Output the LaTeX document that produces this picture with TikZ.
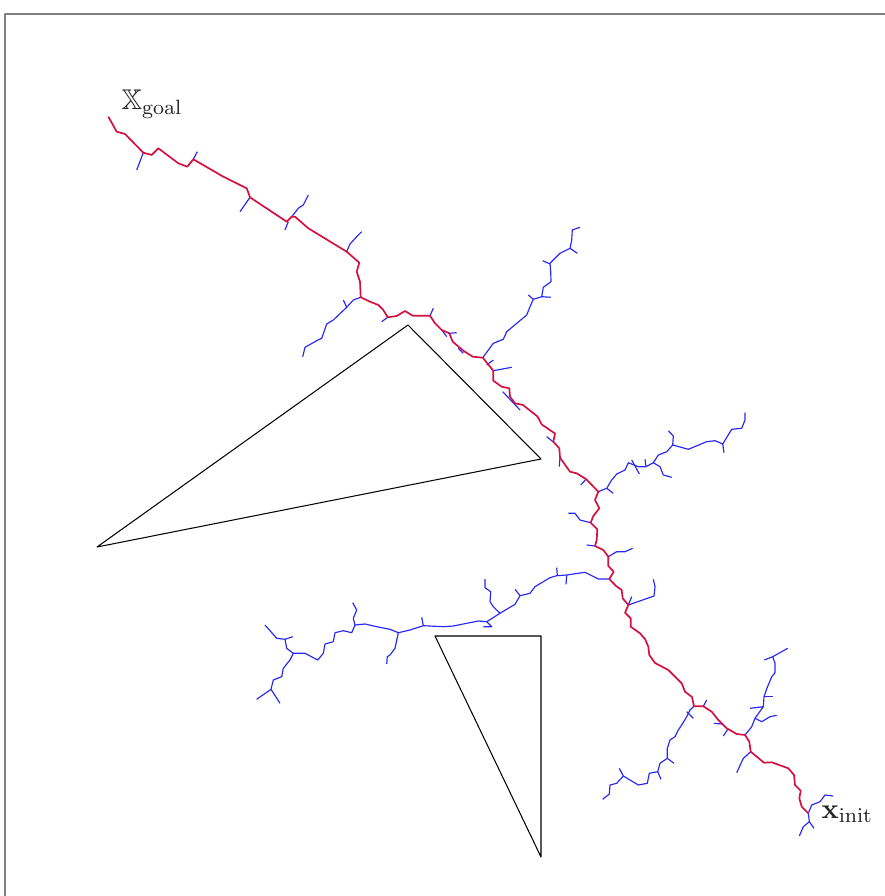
\documentclass[tikz,border=0pt]{standalone}
\usepackage{amsmath, amssymb}
\usepackage{xcolor}
\usepackage{tikz}
\usetikzlibrary{positioning}

\definecolor{pathred}{RGB}{214,16,62}
\definecolor{treeblue}{RGB}{40,40,245}

\begin{document}
\begin{tikzpicture}[x=0.013559cm, y=-0.013559cm, line join=round]
        \tikzstyle{tree} = [draw, treeblue, line width=0.45pt]
        \tikzstyle{solution} = [draw, pathred, line width=0.65pt]
        \tikzstyle{obstacle} = [draw, black, line width=0.4pt]
        \tikzstyle{label} = [anchor=base west, inner sep=0pt, text=black!85, font=\fontsize{11}{13}\selectfont]

        \clip (0,0) rectangle (885,896);
        \draw[gray, line width=0.5pt] (5,14) rectangle (900,910);

        \coordinate (goal) at (108.3,116.7);
        \coordinate (init) at (808.3,813.3);
        \node [label] (goallabel) at (121,110) {$\mathbb{X}_{\mathrm{goal}}$};
        \node [label] (initlabel) at (821,818) {$\mathbf{x}_{\mathrm{init}}$};

        % obstacles
        \path [obstacle] (408,325) -- (541,459) -- (97,547) -- cycle;
        \path [obstacle] (435,636) -- (541,636) -- (541,857) -- cycle;

        % tree branches
        \path [tree] (143.3,152.7) -- (136.7,170);
        \path [tree] (193.3,159.3) -- (197.3,151.7);
        \path [tree] (250,197.3) -- (240,211.7);
        \path [tree] (291.7,216.7) -- (298.3,208.3) -- (303.3,205) -- (308.3,195);
        \path [tree] (288.3,221.7) -- (285,230);
        \path [tree] (346.7,251.7) -- (350,244) -- (356.7,236.7) -- (361.7,231.7);
        \path [tree] (360.7,297.3) -- (353.3,300) -- (346.7,307.3) -- (333.3,320) -- (326.7,324) -- (321.7,338.3) -- (316.7,340.7) -- (305,347.3) -- (302.7,356.7);
        \path [tree] (343.3,300) -- (346.7,307.3);
        \path [tree] (387.7,317.3) -- (381.7,321.7);
        \path [tree] (430,315.7) -- (433.3,308.3);
        \path [tree] (441.7,330) -- (446.7,336.7);
        \path [tree] (449.3,333.3) -- (456.7,332.7);
        \path [tree] (458.3,348.3) -- (463.3,353.3);
        \path [tree] (482.7,357.7) -- (493.3,343.3) -- (503.3,339.3) -- (506.7,331.7) -- (526.7,315) -- (530,306.7) -- (533.3,299.3) -- (541.7,296.7) -- (543.3,287.3) -- (551,281.7) -- (550.7,271.7) -- (550,263.3) -- (560,253.3) -- (570,248.3) -- (571.7,240) -- (572.3,230) -- (580,227.3);
        \path [tree] (528.3,295) -- (533.3,299.3);
        \path [tree] (541.7,296.7) -- (550.7,297.3);
        \path [tree] (542.7,260.7) -- (550,264);
        \path [tree] (570,248.3) -- (577.3,253.3);
        \path [tree] (486.7,365) -- (493.3,360);
        \path [tree] (493.3,370.7) -- (511.7,367.3);
        \path [tree] (502.7,391.7) -- (520,410);
        \path [tree] (546.7,436.7) -- (555,443.3);
        \path [tree] (560,457.3) -- (559.3,466.7);
        \path [tree] (586,479.3) -- (580.7,485);
        \path [tree] (598.3,491.7) -- (606.7,488.3) -- (611.7,480) -- (616.7,474) -- (625,470) -- (628.3,462.7) -- (638.3,466.7) -- (646,466.7) -- (653.3,462.7) -- (658.3,455) -- (666.7,451.7) -- (672.7,445) -- (688.3,449.3) -- (706.7,441.7) -- (715,440.7) -- (722.7,444) -- (731.7,429.3) -- (741.7,428.3) -- (745,420) -- (745,412.7);
        \path [tree] (606.7,488.3) -- (613.3,493.3);
        \path [tree] (631.7,460) -- (639.3,474);
        \path [tree] (645,459.3) -- (646,466.7);
        \path [tree] (653.3,462.7) -- (660,466.7) -- (663.3,475) -- (671.7,477.3);
        \path [tree] (672.7,445) -- (673.3,436) -- (668.3,430.7);
        \path [tree] (722.7,444) -- (724,452.7);
        \path [tree] (590.7,522.7) -- (580,520) -- (575,513.3) -- (568.3,513.3);
        \path [tree] (595,546) -- (586.7,545);
        \path [tree] (608.3,556.7) -- (616.7,551.7) -- (625,551.7) -- (632.7,548.3);
        \path [tree] (609.3,579) -- (598.3,579) -- (585,572.3) -- (566.7,575) -- (556.7,575.7) -- (550,577.7) -- (535,586.7) -- (530,593.3) -- (520,595.7) -- (515,604.3) -- (500,613.3) -- (486.7,621.7) -- (478.3,621) -- (466.7,623.3) -- (453.3,626) -- (443.3,626.7) -- (423.3,625.7) -- (410,630) -- (398.3,632.7) -- (390,629.3) -- (376.7,626.7) -- (365,624) -- (355,625) -- (351.7,632.7) -- (343.3,630.7) -- (335,632.7) -- (333.3,641.7) -- (325,644) -- (323.3,653.3) -- (317.7,660) -- (305,653.3) -- (293.3,653.3) -- (290,660) -- (283.3,668.3) -- (281.7,676.7) -- (273.3,680) -- (271,689.3) -- (256.7,699.3);
        \path [tree] (556.7,567.7) -- (557.3,575.7);
        \path [tree] (566.7,575) -- (566,584.3);
        \path [tree] (520,595.7) -- (515,589.3);
        \path [tree] (500,613.3) -- (493.3,606.7) -- (490,601.7) -- (490.7,591.7) -- (485,587.7) -- (485,579);
        \path [tree] (486.7,621.7) -- (491.7,626.7) -- (483.3,626.7);
        \path [tree] (421.7,617.3) -- (423.3,625.7);
        \path [tree] (398.3,632.7) -- (395,648.3) -- (390,655) -- (387.3,656.7) -- (386.7,664);
        \path [tree] (355,625) -- (353.3,618.3) -- (356.7,610) -- (352.7,602.7);
        \path [tree] (293.3,653.3) -- (286.7,648.3) -- (285,639.3) -- (276.7,638.3) -- (265,625);
        \path [tree] (285,639.3) -- (292.7,636.7);
        \path [tree] (271,689.3) -- (280,703.3);
        \path [tree] (628.3,605) -- (654,596) -- (655,586.7) -- (653.3,579.3);
        \path [tree] (628.3,605) -- (631.7,596.7);
        \path [tree] (694,706.3) -- (690,710) -- (686.7,716.7) -- (681.7,725) -- (678.3,730) -- (675,736.7) -- (670,740) -- (667.3,748.3) -- (667.3,758.3) -- (660,763.3) -- (657.7,771.7) -- (649.3,773.3) -- (647.3,783.3) -- (638.3,785) -- (623.3,776) -- (616.7,783.3) -- (610,785) -- (609.3,794) -- (602.7,799.3);
        \path [tree] (686.7,711.7) -- (693.3,718.3);
        \path [tree] (667.3,758.3) -- (674,763.3);
        \path [tree] (657.7,771.7) -- (661,779.3);
        \path [tree] (623.3,776) -- (619.3,768.3);
        \path [tree] (703.3,706.3) -- (706.7,700);
        \path [tree] (714,723.3) -- (721.7,724);
        \path [tree] (723.3,736) -- (727.7,729.3);
        \path [tree] (745,735) -- (751.7,726.7) -- (755,718.3) -- (763.3,706.7) -- (764,696.7) -- (767,688) -- (771.7,676.7) -- (775,672.7) -- (775,663.3) -- (772.7,656.7) -- (787.7,648.3);
        \path [tree] (772.7,656.7) -- (764.3,660);
        \path [tree] (763.3,706.7) -- (750,708.3);
        \path [tree] (755,718.3) -- (761.7,721.7) -- (770,716.7) -- (776.7,715.3);
        \path [tree] (764,696.7) -- (773.3,696.7);
        \path [tree] (750.7,751.7) -- (743.3,758.3) -- (736.7,772.7);
        \path [tree] (init) -- (811.7,805) -- (820,801.7) -- (825,795) -- (833.3,796);
        \path [tree] (init) -- (809.3,821.7) -- (803.3,826.7) -- (799.3,836);
        \path [tree] (809.3,821.7) -- (814,828.3);

        % solution path
        \path [solution] (goal) -- (116.7,131.7) -- (125,134) -- (143.3,152.7) -- (151.7,155) -- (158.3,148.3) -- (178.3,163.3) -- (187.3,166.7) -- (193.3,159.3) -- (223.3,176.7) -- (246.7,188.3) -- (250,197.3) -- (286.7,221.7) -- (291.7,216.7) -- (295,216.7) -- (308.3,228.3) -- (346.7,251.7) -- (359.3,262.7) -- (356.7,271.7) -- (360,281.7) -- (360.7,297.3) -- (370,301.7) -- (378.3,305) -- (383.3,310) -- (387.7,317.3) -- (396.7,316) -- (405,311) -- (412.7,315.7) -- (430,315.7) -- (435,323.3) -- (441.7,330) -- (449.3,333.3) -- (452.7,341.7) -- (463.3,350.7) -- (472.7,356.7) -- (482.7,357.7) -- (493.3,370.7) -- (493.3,380.7) -- (501.7,386.7) -- (509.3,388.3) -- (510,396.7) -- (515,403.3) -- (523,405) -- (537.5,416.5) -- (541.7,424.5) -- (555,433.5) -- (553.3,441.7) -- (559.3,448.3) -- (560,457.7) -- (570,471.7) -- (576.7,473.3) -- (586.3,479.3) -- (598.3,491.7) -- (595,500) -- (599.3,508.3) -- (593.3,516) -- (590.7,522.7) -- (597.3,529.3) -- (596.7,540) -- (595,546) -- (603.3,550) -- (608.3,556.7) -- (608.3,566) -- (613.7,571.7) -- (609.3,579) -- (616,586) -- (621.7,590) -- (622.7,598.3) -- (628.3,605) -- (625,612.7) -- (630.7,618.3) -- (630.7,626.7) -- (640,633.3) -- (645,639) -- (648.3,646.7) -- (649.3,655) -- (655,663) -- (668.3,670) -- (681.7,683.3) -- (685,691.7) -- (692,697) -- (694,706.3) -- (703.3,706.3) -- (711.7,711.7) -- (718.3,720) -- (726.7,728.3) -- (736.7,734) -- (745,735) -- (749.3,741.7) -- (750.7,751.7) -- (764,762.7) -- (771.7,762.3) -- (788.3,768.3) -- (794,775) -- (795,785) -- (800.7,790.7) -- (799.3,798.3) -- (801.7,806.7) -- (init);
    \end{tikzpicture}
\end{document}
